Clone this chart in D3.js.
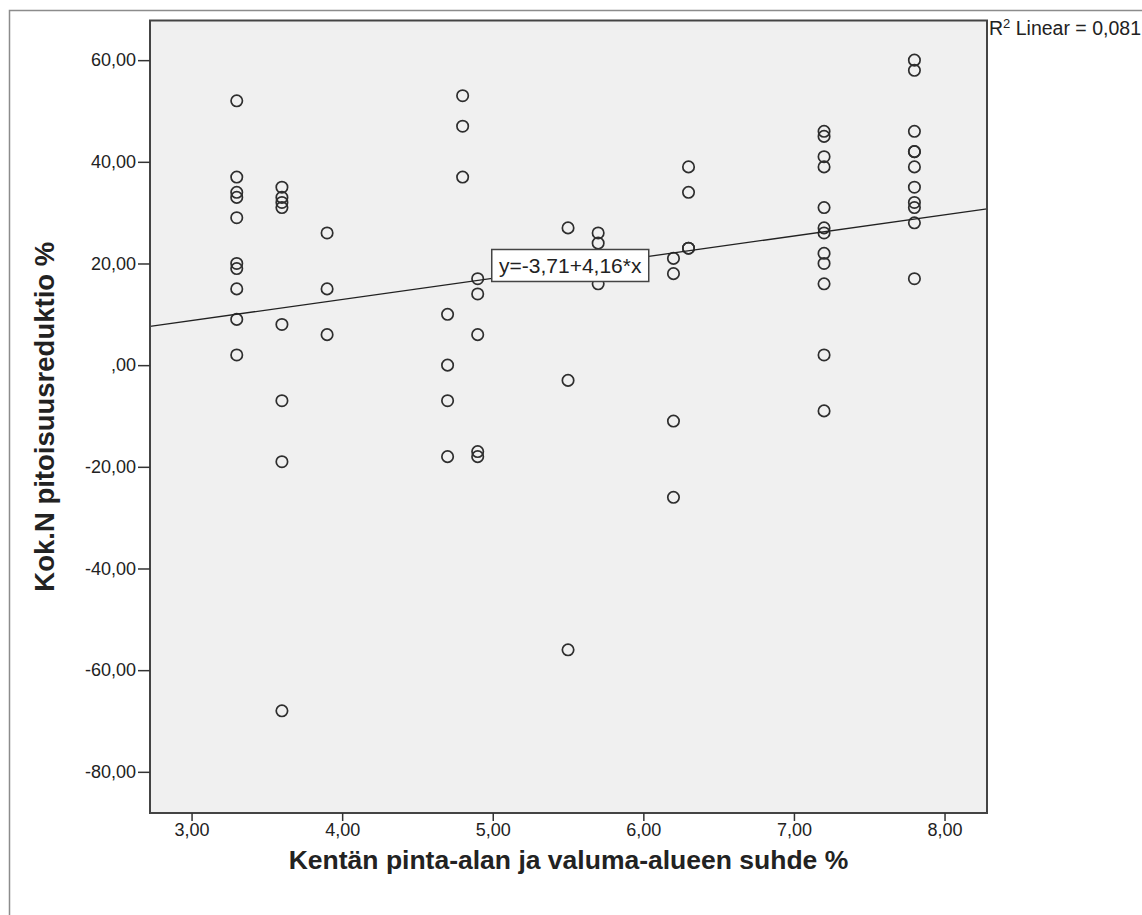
<!DOCTYPE html>
<html>
<head>
<meta charset="utf-8">
<script src="https://cdn.jsdelivr.net/npm/d3@7"></script>
<style>
  html, body { margin: 0; padding: 0; background: #ffffff; }
  svg { display: block; }
  text { font-family: "Liberation Sans", Arial, sans-serif; fill: #222; }
</style>
</head>
<body>
<svg id="chart" width="1142" height="915"></svg>
<script>
// ---- data ----
const ratioGroups = [3.3, 3.6, 3.9, 4.7, 4.8, 4.9, 5.5, 5.7, 6.2, 6.3, 7.2, 7.8];
const reductionGroups = [
  [52, 37, 34, 33, 29, 20, 19, 15, 9, 2],
  [35, 33, 32, 31, 8, -7, -19, -68],
  [26, 15, 6],
  [10, 0, -7, -18],
  [53, 47, 37],
  [17, 14, 6, -17, -18],
  [27, -3, -56],
  [26, 24, 16],
  [21, 18, -11, -26],
  [39, 34, 23, 23],
  [46, 45, 41, 39, 31, 27, 26, 22, 20, 16, 2, -9],
  [60, 58, 46, 42, 42, 39, 35, 32, 31, 28, 17]
];
const xTickValues = [3, 4, 5, 6, 7, 8];
const yTickValues = [60, 40, 20, 0, -20, -40, -60, -80];
const xDomain = [2.724, 8.282];
const yDomain = [-88.1, 67.8];
const fitIntercept = -3.71;
const fitSlope = 4.16;
const fitLabel = "y=-3,71+4,16*x";
const fitLabelAnchorX = 4.99;
const rSquaredValue = "0,081";
const xTitle = "Kentän pinta-alan ja valuma-alueen suhde %";
const yTitle = "Kok.N pitoisuusreduktio %";

// ---- layout ----
const plot = { left: 150, top: 20.5, right: 987, bottom: 813 };
const svg = d3.select("#chart");

const fmt = v => {
  const s = d3.format(".2f")(Math.abs(v)).replace(".", ",");
  const t = Math.abs(v) < 1 ? s.replace(/^0/, "") : s;
  return (v < 0 ? "-" : "") + t;
};

const x = d3.scaleLinear().domain(xDomain).range([plot.left, plot.right]);
const y = d3.scaleLinear().domain(yDomain).range([plot.bottom, plot.top]);

// outer frame
svg.append("rect")
  .attr("x", 9.5).attr("y", 10.5)
  .attr("width", 1160).attr("height", 940)
  .attr("fill", "none").attr("stroke", "#8c8c8c").attr("stroke-width", 1.5);

// plot background
svg.append("rect")
  .attr("x", plot.left).attr("y", plot.top)
  .attr("width", plot.right - plot.left).attr("height", plot.bottom - plot.top)
  .attr("fill", "#f0f0f0");

svg.append("clipPath").attr("id", "plotclip")
  .append("rect")
  .attr("x", plot.left).attr("y", plot.top)
  .attr("width", plot.right - plot.left).attr("height", plot.bottom - plot.top);

// points
const points = [];
ratioGroups.forEach((xv, i) => reductionGroups[i].forEach(yv => points.push({ x: xv, y: yv })));

svg.append("g").attr("clip-path", "url(#plotclip)")
  .selectAll("circle").data(points).enter().append("circle")
  .attr("cx", d => x(d.x)).attr("cy", d => y(d.y))
  .attr("r", 5.7)
  .attr("fill", "none").attr("stroke", "#2e2e2e").attr("stroke-width", 1.7);

// regression line
svg.append("g").attr("clip-path", "url(#plotclip)")
  .append("line")
  .attr("x1", x(xDomain[0])).attr("y1", y(fitIntercept + fitSlope * xDomain[0]))
  .attr("x2", x(xDomain[1])).attr("y2", y(fitIntercept + fitSlope * xDomain[1]))
  .attr("stroke", "#222").attr("stroke-width", 1.3);

// plot frame
svg.append("rect")
  .attr("x", plot.left).attr("y", plot.top)
  .attr("width", plot.right - plot.left).attr("height", plot.bottom - plot.top)
  .attr("fill", "none").attr("stroke", "#444").attr("stroke-width", 2);

// axes
const xAxis = d3.axisBottom(x).tickValues(xTickValues).tickFormat(fmt).tickSize(8).tickPadding(2);
const yAxis = d3.axisLeft(y).tickValues(yTickValues).tickFormat(fmt).tickSize(12).tickPadding(2);

const gx = svg.append("g").attr("transform", `translate(0,${plot.bottom})`).call(xAxis);
const gy = svg.append("g").attr("transform", `translate(${plot.left},0)`).call(yAxis);
[gx, gy].forEach(g => {
  g.select(".domain").remove();
  g.selectAll(".tick line").attr("stroke", "#333").attr("stroke-width", 1.5);
  g.selectAll(".tick text").attr("font-size", 18).attr("fill", "#222")
    .style("font-family", '"Liberation Sans", Arial, sans-serif');
});

// axis titles
svg.append("text")
  .attr("x", (plot.left + plot.right) / 2).attr("y", 869)
  .attr("text-anchor", "middle")
  .attr("font-size", 26.5).attr("font-weight", "bold")
  .text(xTitle);

svg.append("text")
  .attr("transform", `translate(54,${(plot.top + plot.bottom) / 2}) rotate(-90)`)
  .attr("text-anchor", "middle")
  .attr("font-size", 27.5).attr("font-weight", "bold")
  .text(yTitle);

// fit equation box
const ax = x(fitLabelAnchorX);
const ay = y(fitIntercept + fitSlope * fitLabelAnchorX);
const boxW = 157, boxH = 32;
const boxG = svg.append("g").attr("transform", `translate(${ax},${ay + 2.5 - boxH})`);
boxG.append("rect")
  .attr("x", 0.5).attr("y", 0.5).attr("width", boxW).attr("height", boxH)
  .attr("fill", "#ffffff").attr("stroke", "#444").attr("stroke-width", 1.5);
boxG.append("text")
  .attr("x", boxW / 2 + 0.5).attr("y", boxH / 2 + 8)
  .attr("text-anchor", "middle")
  .attr("font-size", 21)
  .text(fitLabel);

// R squared label
const rs = svg.append("text").attr("x", 989).attr("y", 35).attr("font-size", 19.5);
rs.append("tspan").text("R");
rs.append("tspan").attr("font-size", 13).attr("dy", -7).text("2");
rs.append("tspan").attr("dy", 7).text(" Linear = " + rSquaredValue);
</script>
</body>
</html>
